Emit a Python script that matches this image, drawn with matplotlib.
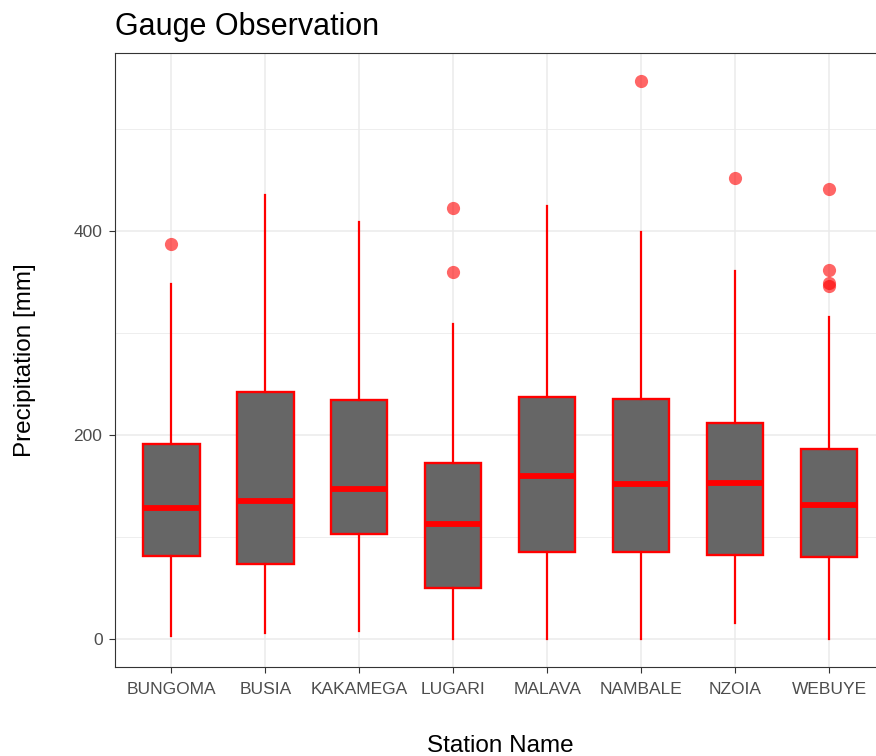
import matplotlib
matplotlib.use("Agg")
import matplotlib.pyplot as plt

plt.rcParams['font.family'] = ['Liberation Sans', 'DejaVu Sans']

# valeurs (mm)
stations = ["BUNGOMA", "BUSIA", "KAKAMEGA", "LUGARI", "MALAVA", "NAMBALE", "NZOIA", "WEBUYE"]
whislo = [3, 6, 8, 0, 0, 0, 16, 0]
q1 = [81, 74, 103, 50, 85, 85, 82, 80]
med = [128, 135, 147, 113, 160, 152, 153, 131]
q3 = [191, 242, 234, 173, 237, 235, 212, 186]
whishi = [348, 435, 409, 309, 424, 399, 361, 316]
fliers = [[387], [], [], [422, 360], [], [547], [452], [441, 362, 349, 346]]

stats = []
for i in range(len(stations)):
    stats.append({"label": stations[i], "whislo": whislo[i], "q1": q1[i], "med": med[i],
                  "q3": q3[i], "whishi": whishi[i], "fliers": fliers[i]})

fig = plt.figure(figsize=(8.76, 7.56), dpi=100)
ax = fig.add_axes([115/876, 89/756, (885.5-115)/876, (667-53)/756])

ax.bxp(stats, positions=range(1, len(stations)+1), widths=0.6, patch_artist=True,
       showcaps=False, zorder=3,
       boxprops=dict(facecolor="#666666", edgecolor="red", linewidth=1.7),
       medianprops=dict(color="red", linewidth=4.2, solid_capstyle="butt"),
       whiskerprops=dict(color="red", linewidth=1.6),
       flierprops=dict(marker="o", markersize=9.5, markerfacecolor="red",
                       markeredgecolor="red", markeredgewidth=0, alpha=0.6))

ax.set_xlim(0.4, 8.6)
ax.set_ylim(-27.4, 574.4)
ax.set_yticks([0, 200, 400])
ax.set_yticks([100, 300, 500], minor=True)
ax.set_xticks(range(1, len(stations)+1))
ax.set_xticklabels(stations)

ax.grid(True, which="major", color="#EBEBEB", linewidth=1.1, zorder=0)
ax.grid(True, which="minor", axis="y", color="#EBEBEB", linewidth=0.6, zorder=0)
ax.set_axisbelow(True)

for s in ax.spines.values():
    s.set_color("#333333")
    s.set_linewidth(0.8)
ax.spines["right"].set_visible(False)  # le cadre sort de l'image à droite

ax.tick_params(which="major", length=4, color="#333333", labelcolor="#4D4D4D",
               labelsize=12.5)
ax.tick_params(axis="x", pad=7)
ax.tick_params(axis="y", pad=5)
ax.tick_params(which="minor", length=0)

ax.set_xlabel("Station Name", fontsize=17.5, labelpad=27)
ax.set_ylabel("Precipitation [mm]", fontsize=17.5, labelpad=27)
ax.set_title("Gauge Observation", loc="left", fontsize=22, pad=13)

fig.savefig("out.png", dpi=100)
